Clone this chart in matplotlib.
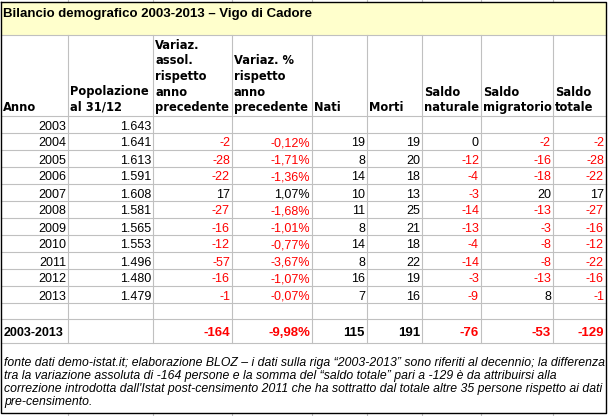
import matplotlib.pyplot as plt
from matplotlib.patches import Rectangle

# ---------------------------------------------------------------- data
title = 'Bilancio demografico 2003-2013 \u2013 Vigo di Cadore'
headers = [
    ['Anno'],
    ['Popolazione', 'al 31/12'],
    ['Variaz.', 'assol.', 'rispetto', 'anno', 'precedente'],
    ['Variaz. %', 'rispetto', 'anno', 'precedente'],
    ['Nati'],
    ['Morti'],
    ['Saldo', 'naturale'],
    ['Saldo', 'migratorio'],
    ['Saldo', 'totale'],
]
anni = [2003, 2004, 2005, 2006, 2007, 2008, 2009, 2010, 2011, 2012, 2013]
popolazione = [1643, 1641, 1613, 1591, 1608, 1581, 1565, 1553, 1496, 1480, 1479]
var_assoluta = [None, -2, -28, -22, 17, -27, -16, -12, -57, -16, -1]
var_percent = [None, -0.12, -1.71, -1.36, 1.07, -1.68, -1.01, -0.77, -3.67, -1.07, -0.07]
nati = [None, 19, 8, 14, 10, 11, 8, 14, 8, 16, 7]
morti = [None, 19, 20, 18, 13, 25, 21, 18, 22, 19, 16]
saldo_naturale = [None, 0, -12, -4, -3, -14, -13, -4, -14, -3, -9]
saldo_migratorio = [None, -2, -16, -18, 20, -13, -3, -8, -8, -13, 8]
saldo_totale = [None, -2, -28, -22, 17, -27, -16, -12, -22, -16, -1]

totale_label = '2003-2013'
totale_values = [None, -164, -9.98, 115, 191, -76, -53, -129]

note_lines = [
    'fonte dati demo-istat.it; elaborazione BLOZ \u2013 i dati sulla riga \u201c2003-2013\u201d sono riferiti al decennio; la differenza',
    'tra la variazione assoluta di -164 persone e la somma del \u201csaldo totale\u201d pari a -129 \u00e8 da attribuirsi alla',
    'correzione introdotta dall\'Istat post-censimento 2011 che ha sottratto dal totale altre 35 persone rispetto ai dati',
    'pre-censimento.',
]


def fmt_int(v):
    return f'{v:,}'.replace(',', '.')


def fmt_pct(v):
    return f'{v:.2f}%'.replace('.', ',')


# ---------------------------------------------------------------- layout (pixels)
W, H = 608, 416
col_x = [1, 68, 153, 232, 312, 367, 422, 481, 553, 606]
title_top, title_bot = 2, 35
head_bot = 116
row_h = 17
data_bot = head_bot + row_h * len(anni)
blank_bot = data_bot + 16
tot_bot = 343
note_bot = 413

grid = '#c0c0c0'
red = '#ff0000'
font = 'Liberation Sans'
head_font = 'DejaVu Sans'
fs = 9

fig = plt.figure(figsize=(W / 100, H / 100), dpi=100)
ax = fig.add_axes([0, 0, 1, 1])
ax.set_xlim(0, W)
ax.set_ylim(H, 0)
ax.axis('off')

# title box
ax.add_patch(Rectangle((col_x[0], title_top), col_x[-1] - col_x[0], title_bot - title_top,
                       facecolor='#ffffcc', edgecolor='none'))
ax.text(3, 17, title, fontsize=9.5, fontweight='bold', family=font, va='baseline')

# grid stubs outside the box
for x in col_x[1:-1]:
    ax.plot([x, x], [0, title_top], color=grid, lw=0.8)
    ax.plot([x, x], [note_bot, H], color=grid, lw=0.8)

# horizontal grid lines
h_lines = [title_bot, head_bot] + [head_bot + row_h * i for i in range(1, len(anni) + 1)] + [blank_bot, tot_bot]
for y in h_lines:
    ax.plot([col_x[0], col_x[-1]], [y, y], color=grid, lw=0.8)

# vertical grid lines
for x in col_x[1:-1]:
    ax.plot([x, x], [title_bot, tot_bot], color=grid, lw=0.8)

# outer border
ax.plot([col_x[0], col_x[-1], col_x[-1], col_x[0], col_x[0]],
        [title_top, title_top, note_bot, note_bot, title_top], color='black', lw=1.0)

# header
line_step = 15.5
for i, lines in enumerate(headers):
    n = len(lines)
    for k, line in enumerate(lines):
        ax.text(col_x[i] + 2, 111 - line_step * (n - 1 - k), line, fontsize=8.3,
                fontweight='bold', family=head_font, va='baseline', ha='left')

# data rows
columns = [popolazione, var_assoluta, var_percent, nati, morti,
           saldo_naturale, saldo_migratorio, saldo_totale]
for r, anno in enumerate(anni):
    yb = head_bot + row_h * (r + 1) - 3.5
    ax.text(col_x[1] - 2, yb, str(anno), fontsize=fs, family=font, ha='right', va='baseline')
    for c, col in enumerate(columns):
        v = col[r]
        if v is None:
            continue
        s = fmt_pct(v) if col is var_percent else fmt_int(v)
        ax.text(col_x[c + 2] - 2, yb, s, fontsize=fs, family=font, ha='right', va='baseline',
                color=red if v < 0 else 'black')

# totals row
yb = tot_bot - 7
ax.text(col_x[0] + 3, yb, totale_label, fontsize=fs, fontweight='bold', family=font, va='baseline')
for c, v in enumerate(totale_values):
    if v is None:
        continue
    s = fmt_pct(v) if c == 2 else fmt_int(v)
    ax.text(col_x[c + 2] - 2, yb, s, fontsize=fs + 0.5, fontweight='bold', family=font,
            ha='right', va='baseline', color=red if v < 0 else 'black')

# footnote
for i, line in enumerate(note_lines):
    ax.text(col_x[0] + 3, 366 + 13 * i, line, fontsize=8.8, style='italic', family=font, va='baseline')

fig.savefig('out.png', dpi=100)
